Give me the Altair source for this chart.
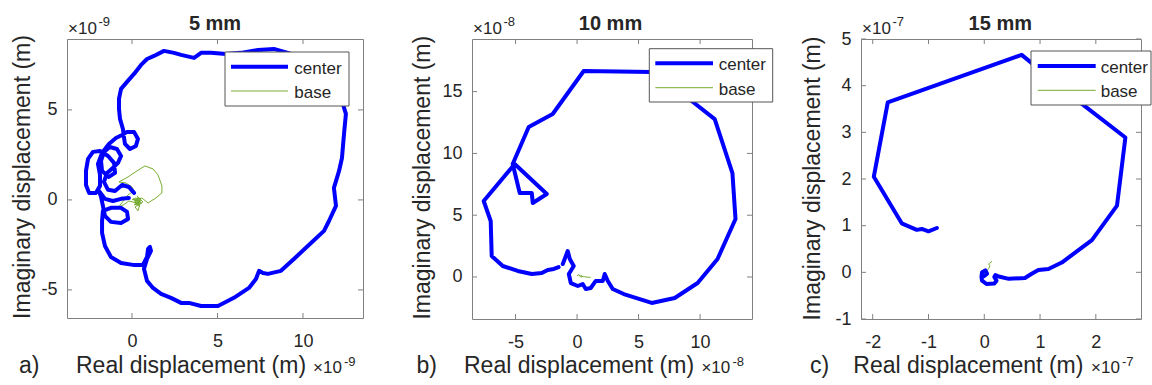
import altair as alt
import pandas as pd

FONT = "Liberation Sans"
BLUE = "#0000ff"
GREEN = "#77ac30"
TXT = "#262626"
AXC = "#808080"

series = ["center", "base"]
titles = ["5 mm", "10 mm", "15 mm"]
letters = ["a)", "b)", "c)"]
exponents = ["-9", "-8", "-7"]
xlabel = "Real displacement (m)"
ylabel = "Imaginary displacement (m)"

# ---- panel a (units of 1e-9 m) ----
a_center_x = [0.12, -0.18, -0.58, -0.99, -1.40, -1.64, -1.46, -1.11, -0.82, -0.64,
              -0.88, -1.29, -1.64, -1.81, -1.75, -1.35, -0.99, -1.05, -1.40, -1.87,
              -2.28, -2.57, -2.69, -2.69, -2.51, -2.11, -1.87, -1.87, -1.99, -1.75,
              -1.35, -0.94, -0.58, -0.29, 0.12, 0.35, 0.23, -0.12, -0.41, -0.47,
              -0.53, -0.70, -0.76, -0.76, -0.64, -0.29, 0.12, 0.53, 0.88, 1.29,
              1.87, 2.46, 2.87, 3.63, 4.04, 4.62, 5.50, 6.37, 7.37, 8.30,
              9.12, 10.18, 11.17, 11.93, 12.28, 12.51, 12.40, 12.28, 12.11, 11.81,
              11.93, 11.52, 11.23, 10.47, 9.47, 8.71, 7.95, 7.66, 7.43, 7.25,
              6.84, 5.96, 5.03, 4.04, 3.33, 2.87, 2.28, 1.70, 1.23, 0.88,
              0.70, 0.88, 1.11, 1.05, 0.94, 0.88, 0.64, 0.06, -0.64, -1.23,
              -1.58, -1.75, -1.75, -1.70, -1.23, -0.64, -0.29, -0.23, -0.64, -1.23,
              -1.58, -1.70, -1.81, -1.93, -1.58, -1.11, -0.64, -0.18]
a_center_y = [0.39, 0.72, 0.83, 0.50, 0.56, 1.00, 1.50, 1.78, 2.06, 2.44,
              2.83, 2.94, 2.67, 2.17, 1.61, 1.28, 1.50, 2.06, 2.44, 2.72,
              2.67, 2.28, 1.61, 0.83, 0.39, 0.39, 0.78, 1.39, 2.00, 2.61,
              3.11, 3.44, 3.61, 3.78, 3.78, 3.39, 3.00, 2.83, 3.11, 3.50,
              3.94, 4.50, 5.06, 5.61, 6.17, 6.56, 7.00, 7.50, 7.83, 8.00,
              8.28, 8.17, 8.06, 7.89, 8.17, 8.17, 8.11, 8.17, 8.33, 8.39,
              8.17, 7.83, 7.28, 6.39, 5.50, 4.78, 3.67, 2.33, 1.61, 0.67,
              -0.33, -1.17, -1.72, -2.39, -3.28, -3.94, -4.11, -4.06, -3.94, -4.39,
              -4.89, -5.44, -5.89, -5.89, -5.72, -5.72, -5.44, -5.22, -4.89, -4.50,
              -3.83, -3.28, -2.83, -2.61, -2.72, -3.17, -3.61, -3.61, -3.50, -3.17,
              -2.56, -1.83, -1.17, -0.61, -0.44, -0.44, -0.67, -1.06, -1.28, -1.22,
              -0.89, -0.33, 0.17, 0.50, 0.06, -0.06, 0.06, 0.11]
a_base_x = [0.00, 0.23, 0.41, 0.12, 0.53, 0.29, 0.64, 0.18, 0.35, 0.47,
            -0.18, -0.41, -0.82, -0.23, 0.12, 0.00, -0.35, -0.76, -0.23, 0.29,
            0.76, 1.23, 1.52, 1.75, 1.75, 1.40, 0.94, 0.58, 0.35, 0.06,
            0.29, 0.18, 0.45, 0.25, 0.50, 0.30, 0.20, 0.55, 0.40, 0.15,
            0.45, 0.30]
a_base_y = [0.00, 0.11, -0.17, -0.28, 0.00, 0.22, -0.11, -0.39, -0.61, -0.22,
            -0.06, -0.22, -0.44, 0.28, 0.50, 0.72, 0.94, 1.00, 1.28, 1.61,
            1.89, 1.72, 1.39, 0.78, 0.39, 0.11, -0.17, 0.11, -0.06, 0.06,
            -0.22, 0.00, -0.10, 0.05, 0.10, -0.30, 0.00, -0.20, 0.05, -0.15,
            -0.35, 0.15]

# ---- panel b (units of 1e-8 m) ----
b_center_x = [-1.16, -0.76, -0.59, -0.27, -0.67, -0.51, 0.06, 0.46, 0.71, 1.11,
              1.52, 2.09, 2.25, 2.50, 2.90, 3.80, 6.07, 7.94, 9.80, 11.42,
              12.88, 12.63, 11.19, 9.32, 7.78, 6.07, 0.54, -1.98, -3.93, -5.23,
              -4.66, -3.68, -3.60, -2.46, -5.07, -7.59, -7.02, -6.94, -6.04, -4.82,
              -3.68, -2.87, -2.38, -1.89, -1.50]
b_center_y = [1.05, 2.10, 1.46, 0.89, 0.24, -0.49, -0.73, -0.57, -0.97, -0.89,
              -0.32, -0.32, 0.24, -0.32, -0.97, -1.38, -2.10, -1.70, -0.49, 1.46,
              4.69, 8.41, 12.78, 14.24, 16.42, 16.59, 16.67, 13.19, 12.14, 9.14,
              6.80, 6.80, 5.99, 6.72, 9.14, 6.15, 4.53, 1.70, 0.89, 0.49,
              0.24, 0.32, 0.57, 0.65, 0.80]
b_base_x = [0.00, 0.15, 0.25, 0.35, 0.30, 0.50, 0.70, 1.10]
b_base_y = [0.10, 0.20, 0.05, 0.15, 0.00, 0.05, 0.00, -0.03]

# ---- panel c (units of 1e-7 m) ----
c_center_x = [-0.85, -1.00, -1.12, -1.21, -1.48, -1.98, -1.73, 0.67, 1.75, 2.53,
              2.38, 1.93, 1.39, 1.15, 0.97, 0.85, 0.73, 0.44, 0.26, 0.20,
              0.18, 0.22, 0.18, 0.04, -0.04, -0.05, -0.04, 0.02, 0.05, 0.00]
c_center_y = [0.95, 0.88, 0.93, 0.91, 1.05, 2.05, 3.64, 4.66, 3.61, 2.89,
              1.43, 0.69, 0.21, 0.07, 0.05, -0.03, -0.12, -0.14, -0.09, -0.06,
              -0.10, -0.18, -0.24, -0.25, -0.18, -0.10, 0.00, 0.04, -0.03, -0.08]
c_base_x = [0.00, 0.04, 0.08, 0.10, 0.08, 0.12, 0.14]
c_base_y = [-0.05, 0.02, 0.08, 0.14, 0.18, 0.22, 0.24]

a_xticks, a_yticks = [0, 5, 10], [-5, 0, 5]
b_xticks, b_yticks = [-5, 0, 5, 10], [0, 5, 10, 15]
c_xticks, c_yticks = [-2, -1, 0, 1, 2], [-1, 0, 1, 2, 3, 4, 5]


def txt(s, x, y, size, weight="normal", align="left", angle=0):
    return alt.Chart(pd.DataFrame({"t": [s]})).mark_text(
        font=FONT, fontSize=size, fontWeight=weight, align=align,
        baseline="alphabetic", angle=angle, color=TXT
    ).encode(text="t:N", x=alt.value(x), y=alt.value(y))


def panel(cx, cy, bx, by, xdom, ydom, xt, yt, k, W, H, lay):
    xs = alt.Scale(domain=xdom, nice=False, zero=False)
    ys = alt.Scale(domain=ydom, nice=False, zero=False)
    common = dict(ticks=False, domain=False, grid=False, labelFont=FONT,
                  labelFontSize=18, labelColor=TXT, labelFlush=False,
                  labelOverlap=False, title=None, labelExpr="datum.value + ''")
    X = alt.X("x:Q", scale=xs, axis=alt.Axis(values=xt, labelPadding=14, **common))
    Y = alt.Y("y:Q", scale=ys, axis=alt.Axis(values=yt, labelPadding=10, **common))

    dc = pd.DataFrame({"x": cx, "y": cy, "i": list(range(len(cx)))})
    db = pd.DataFrame({"x": bx, "y": by, "i": list(range(len(bx)))})
    l_center = alt.Chart(dc).mark_line(
        color=BLUE, strokeWidth=4, clip=True, strokeJoin="round", strokeCap="round"
    ).encode(x=X, y=Y, order="i:Q")
    l_base = alt.Chart(db).mark_line(color=GREEN, strokeWidth=1, clip=True).encode(
        x=X, y=Y, order="i:Q")

    tx = pd.DataFrame({"x": xt})
    ty = pd.DataFrame({"y": yt})
    tl = 5
    ticks = [
        alt.Chart(tx).mark_rule(color=AXC).encode(x=X, y=alt.value(H), y2=alt.value(H - tl)),
        alt.Chart(tx).mark_rule(color=AXC).encode(x=X, y=alt.value(0), y2=alt.value(tl)),
        alt.Chart(ty).mark_rule(color=AXC).encode(y=Y, x=alt.value(0), x2=alt.value(tl)),
        alt.Chart(ty).mark_rule(color=AXC).encode(y=Y, x=alt.value(W), x2=alt.value(W - tl)),
    ]

    bx0, bx1, by0, by1, lx0, lx1, ly1, ly2, tx0 = lay["legend"]
    leg = [
        alt.Chart(pd.DataFrame({"s": [0]})).mark_rect(
            fill="white", stroke="#555555", strokeWidth=1
        ).encode(x=alt.value(bx0), x2=alt.value(bx1), y=alt.value(by0), y2=alt.value(by1)),
        alt.Chart(pd.DataFrame({"s": [series[0]]})).mark_rule(color=BLUE, strokeWidth=4).encode(
            x=alt.value(lx0), x2=alt.value(lx1), y=alt.value(ly1)),
        alt.Chart(pd.DataFrame({"s": [series[1]]})).mark_rule(color=GREEN, strokeWidth=1).encode(
            x=alt.value(lx0), x2=alt.value(lx1), y=alt.value(ly2)),
        txt(series[0], tx0, ly1 + 7, 17),
        txt(series[1], tx0, ly2 + 7, 17),
    ]

    texts = [
        txt(titles[k], lay["title_x"], -9, 20, weight="bold", align="center"),
        txt("\u00d710", 1.0, -4.7, 17),
        txt(exponents[k], 31.5, -13.5, 13),
        txt("\u00d710", lay["br_x"], 334, 17),
        txt(exponents[k], lay["br_x"] + 31, 326.5, 13),
        txt(letters[k], lay["letter_x"], 334, 23),
        txt(xlabel, lay["xlab_x"], 334, 23),
        txt(ylabel, lay["ylab_x"], lay["ylab_y"], 23, align="center", angle=270),
    ]

    return alt.layer(l_base, l_center, *ticks, *leg, *texts).properties(width=W, height=H)


pa = panel(a_center_x, a_center_y, a_base_x, a_base_y, [-3.80, 13.51], [-6.56, 8.94],
           a_xticks, a_yticks, 0, 296, 279,
           dict(legend=(158, 282, 13, 67, 164, 221, 27.7, 52, 227.3),
                title_x=148, br_x=246, letter_x=-48, xlab_x=9, ylab_x=-37, ylab_y=138))
pb = panel(b_center_x, b_center_y, b_base_x, b_base_y, [-8.54, 14.22], [-3.40, 19.26],
           b_xticks, b_yticks, 1, 280, 280,
           dict(legend=(177.3, 300.7, 9.7, 63, 183.3, 241, 24.3, 48.7, 246.7),
                title_x=138.5, br_x=229.4, letter_x=-55.6, xlab_x=-8, ylab_x=-42.5, ylab_y=138.7))
pc = panel(c_center_x, c_center_y, c_base_x, c_base_y, [-2.21, 2.81], [-1, 5],
           c_xticks, c_yticks, 2, 280, 280,
           dict(legend=(170, 290, 12, 66, 176.7, 234.7, 27, 51.3, 239.7),
                title_x=139.3, br_x=230, letter_x=-51, xlab_x=-7.7, ylab_x=-41.2, ylab_y=139.5))

chart = alt.hconcat(pa, pb, pc, spacing=109, bounds="flush").resolve_scale(
    x="independent", y="independent"
).properties(
    padding={"left": 11, "top": 13, "right": 0, "bottom": 0},
    background="white",
).configure_view(stroke=AXC, strokeWidth=1)

chart.save("out.html", embed_options={"renderer": "svg", "actions": False})
